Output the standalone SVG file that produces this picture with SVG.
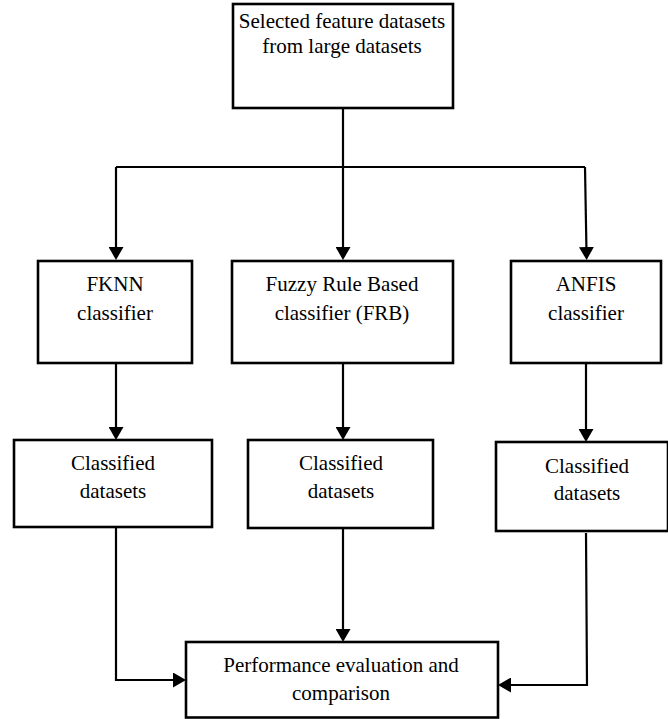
<svg xmlns="http://www.w3.org/2000/svg" width="668" height="719" viewBox="0 0 668 719">
<style>
.box{fill:#fff;stroke:#000;stroke-width:2.6}
.t{font-family:'Liberation Serif','Times New Roman',Tinos,'DejaVu Serif',serif;font-size:21px;fill:#000;text-anchor:middle}
.c{fill:none;stroke:#000;stroke-width:2.2}
</style>
<defs>
<marker id="ah" markerUnits="userSpaceOnUse" markerWidth="15" markerHeight="15" refX="6" refY="7.5" orient="auto">
<path d="M0,0 L13,7.5 L0,15 Z" fill="#000"/>
</marker>
</defs>
<rect width="668" height="719" fill="#fff"/>
<g id="connectors">
<path class="c" d="M343,108 V253" marker-end="url(#ah)"/>
<path class="c" d="M116,167 H585"/>
<path class="c" d="M116,167 V253" marker-end="url(#ah)"/>
<path class="c" d="M585,167 L586.5,253" marker-end="url(#ah)"/>
<path class="c" d="M116,363 V433" marker-end="url(#ah)"/>
<path class="c" d="M343,363 V433" marker-end="url(#ah)"/>
<path class="c" d="M586,363 V435" marker-end="url(#ah)"/>
<path class="c" d="M116,527 V680 H179" marker-end="url(#ah)"/>
<path class="c" d="M343,528 V635" marker-end="url(#ah)"/>
<path class="c" d="M586,533 L587,685 H505" marker-end="url(#ah)"/>
</g>
<g id="top">
<rect class="box" x="233" y="4" width="220" height="104"/>
<text class="t" x="342" y="28" font-family="Liberation Serif, serif">Selected feature datasets</text>
<text class="t" x="342" y="53" font-family="Liberation Serif, serif">from large datasets</text>
</g>
<g id="fknn">
<rect class="box" x="38" y="261" width="154" height="102"/>
<text class="t" x="115" y="291">FKNN</text>
<text class="t" x="115" y="320">classifier</text>
</g>
<g id="frb">
<rect class="box" x="232" y="261" width="221" height="102"/>
<text class="t" x="342" y="291">Fuzzy Rule Based</text>
<text class="t" x="342" y="320">classifier (FRB)</text>
</g>
<g id="anfis">
<rect class="box" x="511" y="261" width="150" height="102"/>
<text class="t" x="586" y="291">ANFIS</text>
<text class="t" x="586" y="320">classifier</text>
</g>
<g id="cls1">
<rect class="box" x="14" y="440" width="198" height="87"/>
<text class="t" x="113" y="470">Classified</text>
<text class="t" x="113" y="498">datasets</text>
</g>
<g id="cls2">
<rect class="box" x="248" y="440" width="185" height="88"/>
<text class="t" x="341" y="470">Classified</text>
<text class="t" x="341" y="498">datasets</text>
</g>
<g id="cls3">
<rect class="box" x="496" y="442" width="172" height="89"/>
<text class="t" x="587" y="473">Classified</text>
<text class="t" x="587" y="500">datasets</text>
</g>
<g id="perf">
<rect class="box" x="186" y="642" width="312" height="75.5"/>
<text class="t" x="341" y="672">Performance evaluation and</text>
<text class="t" x="341" y="700">comparison</text>
</g>
</svg>
